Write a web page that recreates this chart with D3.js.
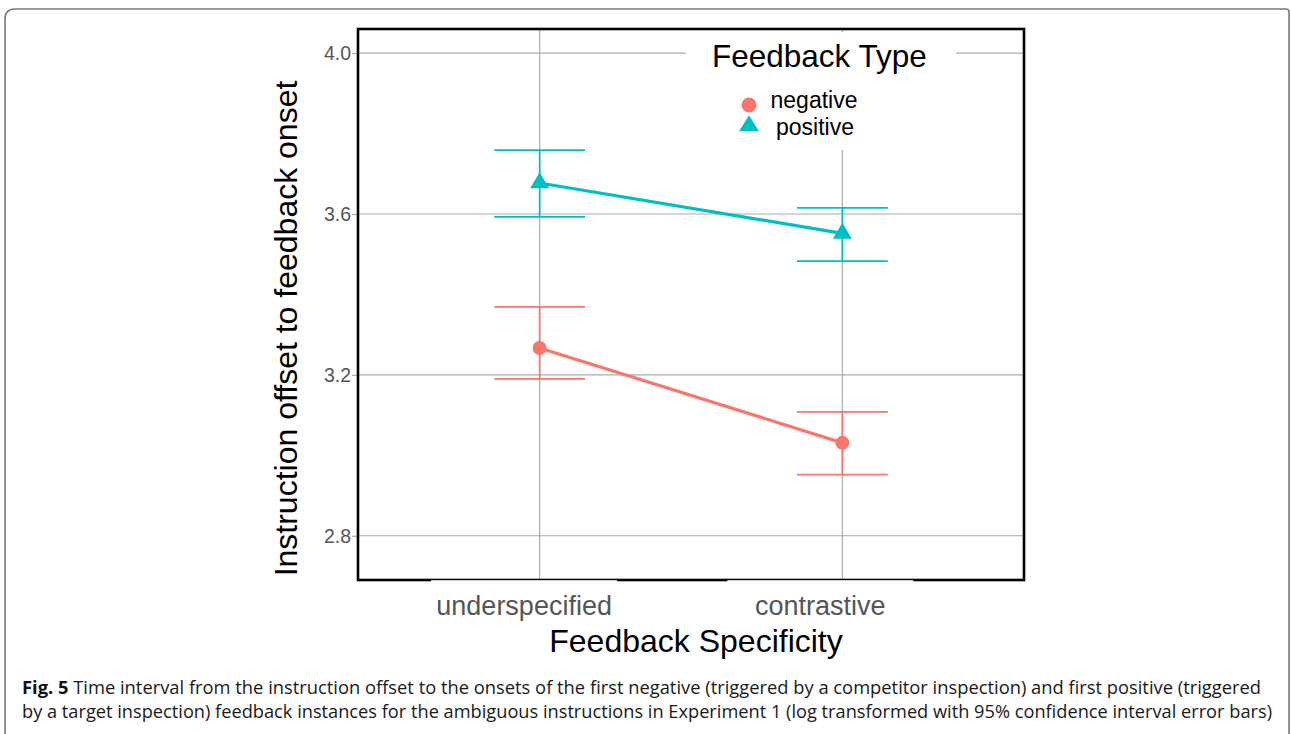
<!DOCTYPE html>
<html>
<head>
<meta charset="utf-8">
<script src="https://cdn.jsdelivr.net/npm/d3@7"></script>
<style>
  html, body { margin: 0; padding: 0; background: #fff; }
  svg { display: block; }
</style>
</head>
<body>
<svg id="chart" width="1291" height="734"></svg>
<script>
// ---- data ----
const categories = ["underspecified", "contrastive"];
const series = ["negative", "positive"];
const negativeMean = [3.267, 3.031];
const negativeLow  = [3.190, 2.952];
const negativeHigh = [3.369, 3.108];
const positiveMean = [3.677, 3.552];
const positiveLow  = [3.593, 3.483];
const positiveHigh = [3.759, 3.615];
const yTicks = [2.8, 3.2, 3.6, 4.0];
const colors = ["#F8766D", "#00BFC4"];
const captionLine1Bold = "Fig. 5";
const captionLine1 = " Time interval from the instruction offset to the onsets of the first negative (triggered by a competitor inspection) and first positive (triggered";
const captionLine2 = "by a target inspection) feedback instances for the ambiguous instructions in Experiment 1 (log transformed with 95% confidence interval error bars)";

const svg = d3.select("#chart");

// outer frame (open at bottom)
svg.append("path")
  .attr("d", "M5,734 L5,19 Q5,9 15,9 L1286,9 Q1289,9 1289,12 L1289,734")
  .attr("fill", "none").attr("stroke", "#7a7a7a").attr("stroke-width", 1.6);

const P = {left: 358, right: 1024, top: 29, bottom: 580};
const x = d3.scaleLinear().domain([-0.6, 1.6]).range([P.left, P.right]);
const y = d3.scaleLinear().domain([2.69, 4.06]).range([P.bottom, P.top]);

const g = svg.append("g");

// gridlines
g.selectAll(".hgrid").data(yTicks).join("line")
  .attr("x1", P.left).attr("x2", P.right)
  .attr("y1", d => y(d)).attr("y2", d => y(d))
  .attr("stroke", "#ababab").attr("stroke-width", 1.2);
g.selectAll(".vgrid").data(categories).join("line")
  .attr("x1", (d, i) => x(i)).attr("x2", (d, i) => x(i))
  .attr("y1", P.top).attr("y2", P.bottom)
  .attr("stroke", "#ababab").attr("stroke-width", 1.2);

// y axis ticks & labels
const yAxis = d3.axisLeft(y).tickValues(yTicks).tickFormat(d3.format(".1f")).tickSize(6).tickPadding(1);
const ya = svg.append("g").attr("transform", `translate(${P.left},0)`).call(yAxis);
ya.select(".domain").remove();
ya.selectAll(".tick line").attr("stroke", "#ababab").attr("stroke-width", 1.2);
ya.selectAll(".tick text").attr("font-family", "Liberation Sans, Arial, sans-serif")
  .attr("font-size", 19.5).attr("fill", "#555");

// data series
const allSeries = [
  {name: series[0], mean: negativeMean, lo: negativeLow, hi: negativeHigh, color: colors[0]},
  {name: series[1], mean: positiveMean, lo: positiveLow, hi: positiveHigh, color: colors[1]}
];
const halfW = 0.15;
allSeries.forEach(s => {
  const sg = g.append("g");
  categories.forEach((c, i) => {
    sg.append("line").attr("x1", x(i)).attr("x2", x(i))
      .attr("y1", y(s.lo[i])).attr("y2", y(s.hi[i]))
      .attr("stroke", s.color).attr("stroke-width", 1.7);
    [s.lo[i], s.hi[i]].forEach(v => {
      sg.append("line").attr("x1", x(i - halfW)).attr("x2", x(i + halfW))
        .attr("y1", y(v)).attr("y2", y(v))
        .attr("stroke", s.color).attr("stroke-width", 1.7);
    });
  });
  sg.append("path")
    .attr("d", d3.line().x((d, i) => x(i)).y(d => y(d))(s.mean))
    .attr("fill", "none").attr("stroke", s.color).attr("stroke-width", 3.2);
});

function triPath(cx, cy, w, h) {
  return `M${cx},${cy - 2*h/3} L${cx + w/2},${cy + h/3} L${cx - w/2},${cy + h/3} Z`;
}
// points
negativeMean.forEach((v, i) => {
  g.append("circle").attr("cx", x(i)).attr("cy", y(v)).attr("r", 7).attr("fill", colors[0]);
});
positiveMean.forEach((v, i) => {
  g.append("path").attr("d", triPath(x(i), y(v), 19, 16)).attr("fill", colors[1]);
});

// legend (white background over grid)
svg.append("rect").attr("x", 686).attr("y", 32).attr("width", 270).attr("height", 118).attr("fill", "#fff");
svg.append("text").attr("x", 712).attr("y", 67)
  .attr("font-family", "Liberation Sans, Arial, sans-serif").attr("font-size", 31.5).attr("fill", "#000")
  .text("Feedback Type");
svg.append("circle").attr("cx", 749).attr("cy", 105).attr("r", 7.5).attr("fill", colors[0]);
svg.append("path").attr("d", triPath(749, 126, 20, 16)).attr("fill", colors[1]);
svg.append("text").attr("x", 814).attr("y", 108).attr("text-anchor", "middle")
  .attr("font-family", "Liberation Sans, Arial, sans-serif").attr("font-size", 23).attr("fill", "#000")
  .text(series[0]);
svg.append("text").attr("x", 815).attr("y", 135).attr("text-anchor", "middle")
  .attr("font-family", "Liberation Sans, Arial, sans-serif").attr("font-size", 23).attr("fill", "#000")
  .text(series[1]);

// panel border
svg.append("rect").attr("x", P.left).attr("y", P.top)
  .attr("width", P.right - P.left).attr("height", P.bottom - P.top)
  .attr("fill", "none").attr("stroke", "#000").attr("stroke-width", 2.6);

// x tick labels with gaps in the bottom border
const labelOffsets = [-15.5, -22];
categories.forEach((c, i) => {
  const cx = x(i) + labelOffsets[i];
  svg.append("rect").attr("x", cx - 93).attr("y", P.bottom + 0.2).attr("width", 186).attr("height", 2)
    .attr("fill", "#fff");
  svg.append("text").attr("x", cx).attr("y", 615).attr("text-anchor", "middle")
    .attr("font-family", "Liberation Sans, Arial, sans-serif").attr("font-size", 27).attr("fill", "#555")
    .text(c);
});

// axis titles
svg.append("text").attr("x", 696).attr("y", 652).attr("text-anchor", "middle")
  .attr("font-family", "Liberation Sans, Arial, sans-serif").attr("font-size", 32).attr("fill", "#000")
  .text("Feedback Specificity");
svg.append("text").attr("transform", "translate(297,328.5) rotate(-90)").attr("text-anchor", "middle")
  .attr("font-family", "Liberation Sans, Arial, sans-serif").attr("font-size", 32).attr("fill", "#000")
  .text("Instruction offset to feedback onset");

// caption
const cap1 = svg.append("text").attr("x", 22).attr("y", 694)
  .attr("font-family", "Open Sans, Noto Sans, sans-serif").attr("font-size", 18).attr("fill", "#1a1a1a")
  .attr("textLength", 1239).attr("lengthAdjust", "spacingAndGlyphs");
cap1.append("tspan").attr("font-weight", "bold").attr("fill", "#111").text(captionLine1Bold);
cap1.append("tspan").text(captionLine1);
svg.append("text").attr("x", 22).attr("y", 718)
  .attr("font-family", "Open Sans, Noto Sans, sans-serif").attr("font-size", 18).attr("fill", "#1a1a1a")
  .attr("textLength", 1250).attr("lengthAdjust", "spacingAndGlyphs")
  .text(captionLine2);
</script>
</body>
</html>
